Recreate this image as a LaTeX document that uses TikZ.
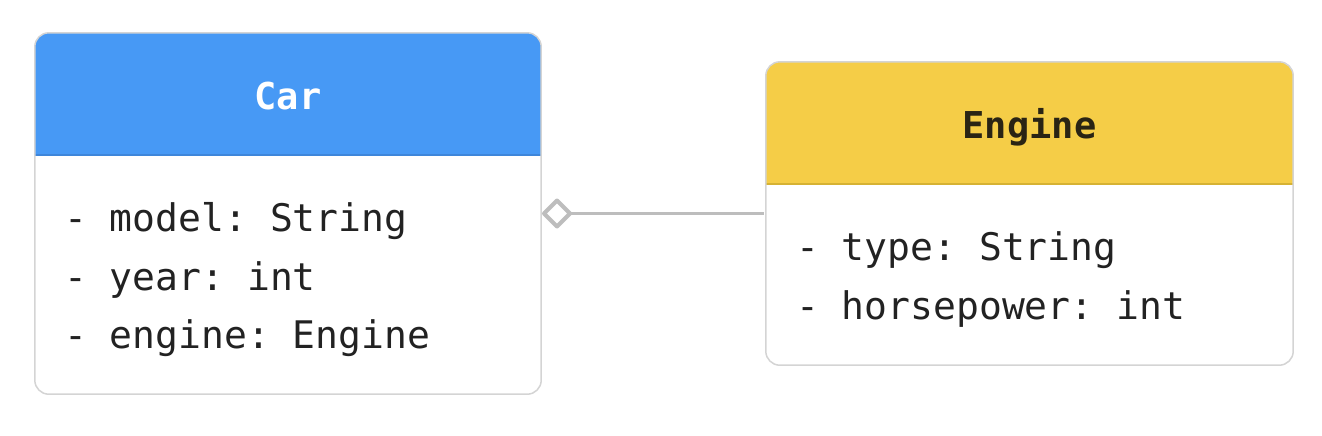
\documentclass[tikz,border=0pt]{standalone}
\usepackage{fontspec}
\setmonofont{DejaVu Sans Mono}
\usetikzlibrary{shapes.geometric}
\definecolor{carblue}{HTML}{4799F5}
\definecolor{carline}{HTML}{3E86DA}
\definecolor{engyellow}{HTML}{F5CD47}
\definecolor{engline}{HTML}{D6B233}
\definecolor{boxborder}{HTML}{D4D4D4}
\definecolor{txt}{HTML}{222222}
\definecolor{engtitle}{HTML}{2A2414}
\definecolor{conngray}{HTML}{BDBDBD}
\tikzset{
  umlbox/.style={rectangle, rounded corners=14pt, inner sep=0pt},
  title/.style={font=\ttfamily\bfseries\fontsize{37}{44}\selectfont, anchor=base, inner sep=0pt},
  attr/.style={font=\ttfamily\fontsize{38}{44}\selectfont, text=txt, anchor=base west, inner sep=0pt},
  aggtip/.style={diamond, draw=conngray, line width=4pt, fill=white, minimum width=26pt, minimum height=26pt, inner sep=0pt, outer sep=0pt, line join=round},
  conn/.style={draw=conngray, line width=3pt}
}
\begin{document}
\begin{tikzpicture}[x=1pt, y=-1pt]
\useasboundingbox[fill=white] (0,0) rectangle (1322,436);
% Car box
\node[umlbox, minimum width=506pt, minimum height=361pt] (car) at (288,213.5) {};
\begin{scope}
  \clip[rounded corners=14pt] (car.south west) rectangle (car.north east);
  \fill[carblue] (car.north west) rectangle (541,155);
\end{scope}
\draw[carline, line width=1.2pt] (car.west |- 0,155) -- (car.east |- 0,155);
\draw[boxborder, line width=1.5pt, rounded corners=14pt] (car.south west) rectangle (car.north east);
\node[title, text=white] (cartitle) at (288,109) {Car};
\node[attr] (c1) at (64,231) {- model: String};
\node[attr] (c2) at (64,290) {- year: int};
\node[attr] (c3) at (64,348) {- engine: Engine};
% Engine box
\node[umlbox, minimum width=527pt, minimum height=303pt] (engine) at (1029.5,213.5) {};
\begin{scope}
  \clip[rounded corners=14pt] (engine.south west) rectangle (engine.north east);
  \fill[engyellow] (engine.north west) rectangle (1293,184);
\end{scope}
\draw[engline, line width=1.2pt] (engine.west |- 0,184) -- (engine.east |- 0,184);
\draw[boxborder, line width=1.5pt, rounded corners=14pt] (engine.south west) rectangle (engine.north east);
\node[title, text=engtitle] (engtitle) at (1029.5,138) {Engine};
\node[attr] (e1) at (796,260) {- type: String};
\node[attr] (e2) at (796,319) {- horsepower: int};
% aggregation
\node[aggtip] (agg) at (557,213.5) {};
\draw[conn] ([xshift=-2pt]engine.west) -- (agg.east);
\end{tikzpicture}
\end{document}
